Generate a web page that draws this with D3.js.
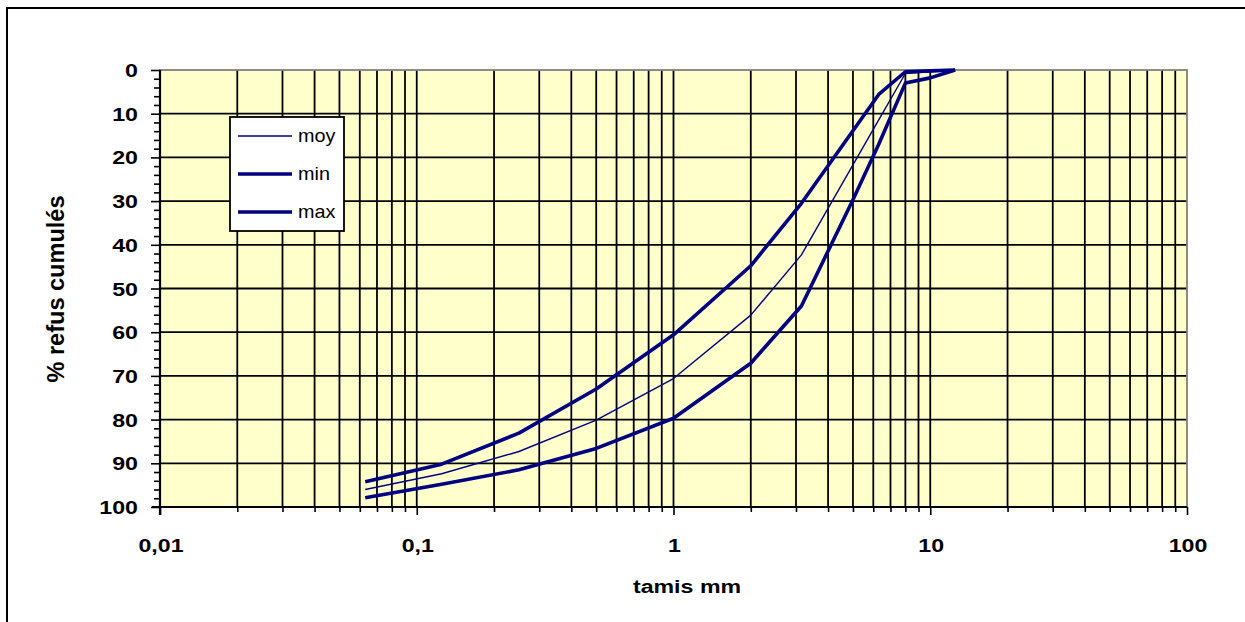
<!DOCTYPE html>
<html><head><meta charset="utf-8">
<script src="https://cdn.jsdelivr.net/npm/d3@7"></script>
<style>
body{margin:0;background:#fff}
text{font-family:"Liberation Sans",Arial,sans-serif;fill:#000}
</style>
</head><body>
<svg id="c" width="1245" height="622"></svg>
<script>
// ---- data ----
const sieves = [0.063, 0.125, 0.25, 0.5, 1, 2, 3.15, 5, 6.3, 8, 10, 12.5];
const moy = [96, 92.4, 87.3, 80.1, 70.6, 56.1, 42.3, 21.7, 11.4, 0.8, 0.4, 0];
const minSeries = [94.2, 90.2, 83.1, 73, 60.6, 44.8, 30.5, 13.9, 5.6, 0.4, 0.2, 0];
const maxSeries = [97.9, 94.8, 91.5, 86.6, 79.7, 67.1, 54, 29.7, 17, 3, 1.8, 0];
const seriesNames = ["moy", "min", "max"];
const yTickValues = [0, 10, 20, 30, 40, 50, 60, 70, 80, 90, 100];
const xTickValues = [0.01, 0.1, 1, 10, 100];
const xTickLabels = ["0,01", "0,1", "1", "10", "100"];
const xTitle = "tamis mm";
const yTitle = "% refus cumulés";

// ---- layout ----
const L = 160, T = 70, R = 1187, B = 507;
const SX = 1.22, FS = 19;
const svg = d3.select("#c");
const x = d3.scaleLog().domain([0.01, 100]).range([L, R]);
const y = d3.scaleLinear().domain([0, 100]).range([T, B]);

// outer chart border
svg.append("rect").attr("x", 7).attr("y", 8).attr("width", 1400).attr("height", 800)
  .attr("fill", "#fff").attr("stroke", "#000").attr("stroke-width", 2);

// plot background
svg.append("rect").attr("x", L).attr("y", T).attr("width", R - L).attr("height", B - T)
  .attr("fill", "#FFFFCC");

// grid lines
const minorX = [];
for (let k = -2; k < 2; k++) for (let m = 1; m < 10; m++) minorX.push(m * Math.pow(10, k));
minorX.push(100);
svg.append("g").selectAll("line").data(minorX.filter(v => v > 0.01 && v < 100)).join("line")
  .attr("x1", d => x(d)).attr("x2", d => x(d)).attr("y1", T).attr("y2", B)
  .attr("stroke", "#000").attr("stroke-width", 1.8);
svg.append("g").selectAll("line").data(yTickValues.filter(v => v > 0 && v < 100)).join("line")
  .attr("x1", L).attr("x2", R).attr("y1", d => y(d)).attr("y2", d => y(d))
  .attr("stroke", "#000").attr("stroke-width", 1.8);

// plot border
svg.append("rect").attr("x", L).attr("y", T).attr("width", R - L).attr("height", B - T)
  .attr("fill", "none").attr("stroke", "#808080").attr("stroke-width", 1.8);

// y axis
const yMinor = d3.range(0, 101, 2);
const yAxisG = svg.append("g").attr("transform", `translate(${L},0)`)
  .call(d3.axisLeft(y).tickValues(yMinor).tickSize(6).tickFormat(""));
yAxisG.select(".domain").remove();
yAxisG.selectAll("line").attr("stroke", "#000").attr("stroke-width", 1.6)
  .attr("x2", d => d % 10 === 0 ? -9 : -6);
svg.append("line").attr("x1", L).attr("x2", L).attr("y1", T).attr("y2", B + 8)
  .attr("stroke", "#000").attr("stroke-width", 2.2);

// x axis
const xAxisG = svg.append("g").attr("transform", `translate(0,${B})`)
  .call(d3.axisBottom(x).tickValues(minorX).tickSize(5).tickFormat(""));
xAxisG.select(".domain").remove();
xAxisG.selectAll("line").attr("stroke", "#000").attr("stroke-width", 1.6)
  .attr("y2", d => xTickValues.includes(d) ? 8 : 5);
svg.append("line").attr("x1", L - 8).attr("x2", R).attr("y1", B).attr("y2", B)
  .attr("stroke", "#000").attr("stroke-width", 2.2);

// tick labels
function stretchedText(g, px, py, str, anchor, opts = {}) {
  const t = g.append("g").attr("transform", `translate(${px},${py}) scale(${opts.sx || SX},1)`)
    .append("text").attr("text-anchor", anchor).attr("font-size", opts.fs || FS)
    .attr("font-weight", opts.fw || "bold").text(str);
  return t;
}
const lbl = svg.append("g");
yTickValues.forEach(v => stretchedText(lbl, 138, y(v) + 7, String(v), "end"));
xTickValues.forEach((v, i) => stretchedText(lbl, x(v) + 1, 552, xTickLabels[i], "middle"));

// titles
stretchedText(svg, 687, 593, xTitle, "middle");
svg.append("g").attr("transform", `translate(64,289) rotate(-90) scale(1.24,1.22)`)
  .append("text").attr("text-anchor", "middle").attr("font-size", FS).attr("font-weight", "bold").text(yTitle);

// series lines
const line = d3.line().x(d => x(d[0])).y(d => y(d[1]));
const series = [
  {name: seriesNames[0], values: moy, w: 1.4},
  {name: seriesNames[1], values: minSeries, w: 3.6},
  {name: seriesNames[2], values: maxSeries, w: 3.6}
];
svg.append("g").selectAll("path").data(series).join("path")
  .attr("d", s => line(sieves.map((v, i) => [v, s.values[i]])))
  .attr("fill", "none").attr("stroke", "#000080").attr("stroke-width", s => s.w)
  .attr("stroke-linejoin", "round");

// legend
const lg = svg.append("g");
lg.append("rect").attr("x", 230).attr("y", 117).attr("width", 114).attr("height", 114)
  .attr("fill", "#fff").attr("stroke", "#000").attr("stroke-width", 1.8);
series.forEach((s, i) => {
  const yy = 136 + i * 38;
  lg.append("line").attr("x1", 238).attr("x2", 292).attr("y1", yy).attr("y2", yy)
    .attr("stroke", "#000080").attr("stroke-width", s.w);
  stretchedText(lg, 298, yy + 6, s.name, "start", {fw: "normal", fs: 18, sx: 1.1});
});
</script>
</body></html>
